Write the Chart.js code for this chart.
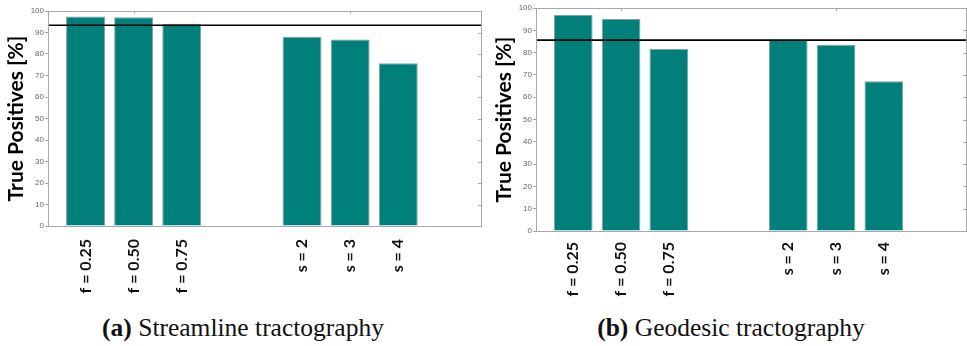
<!DOCTYPE html>
<html>
<head>
<meta charset="utf-8">
<script src="https://cdn.jsdelivr.net/npm/chart.js@4.4.1/dist/chart.umd.min.js"></script>
<style>
  body { margin: 0; background: #fff; width: 967px; height: 346px; position: relative; overflow: hidden; }
  canvas { position: absolute; top: 0; }
  .caption { position: absolute; top: 313px; font-family: "Liberation Serif", serif; font-size: 25.5px; color: #111; white-space: nowrap; transform: translateX(-50%); }
</style>
</head>
<body>
<canvas id="streamline" width="484" height="305" style="left:0"></canvas>
<canvas id="geodesic" width="483" height="305" style="left:484px"></canvas>
<div class="caption" style="left:243px"><b>(a)</b> Streamline tractography</div>
<div class="caption" style="left:731px"><b>(b)</b> Geodesic tractography</div>
<script>
'use strict';

// bar labels and where they sit on the x axis (gap between the two groups)
const groupLabels = ['f = 0.25', 'f = 0.50', 'f = 0.75', 's = 2', 's = 3', 's = 4'];
const barPositions = [1, 2, 3, 5.5, 6.5, 7.5];
const xRange = [0.22, 9.22];
const topTickPositions = [2, 6.5];

// true positives [%]
const streamlineTP = [97.5, 97.1, 94.1, 88.0, 86.8, 75.7];
const streamlineRef = 93.4;
const geodesicTP = [96.9, 95.1, 81.6, 85.8, 83.5, 67.2];
const geodesicRef = 85.6;

const BAR_COLOR = '#007f7b';
const FRAME_COLOR = '#a8a8a8';

// box around the plot plus the little inward ticks MATLAB draws
const framePlugin = {
    id: 'frame',
    afterDatasetsDraw: function (chart) {
        const ctx = chart.ctx;
        const a = chart.chartArea;
        const y = chart.scales.y;
        const x = chart.scales.x;
        ctx.save();
        ctx.strokeStyle = FRAME_COLOR;
        ctx.lineWidth = 1;
        ctx.beginPath();
        y.ticks.forEach(t => {
            const py = Math.round(y.getPixelForValue(t.value)) + 0.5;
            ctx.moveTo(a.right, py);
            ctx.lineTo(a.right - 3, py);
        });
        topTickPositions.forEach(v => {
            const px = Math.round(x.getPixelForValue(v)) + 0.5;
            ctx.moveTo(px, a.top);
            ctx.lineTo(px, a.top + 3);
        });
        ctx.stroke();
        ctx.strokeRect(Math.round(a.left) + 0.5, Math.round(a.top) + 0.5,
            Math.round(a.right - a.left), Math.round(a.bottom - a.top));
        ctx.restore();
    }
};

function makeChart (canvasId, values, refValue, lay) {
    const ctx = document.getElementById(canvasId).getContext('2d');
    return new Chart(ctx, {
        data: {
            datasets: [{
                type: 'line',
                data: [{x: xRange[0], y: refValue}, {x: xRange[1], y: refValue}],
                borderColor: '#000',
                borderWidth: 1.6,
                pointRadius: 0,
                order: 0
            }, {
                type: 'bar',
                data: barPositions.map((p, i) => ({x: p, y: values[i]})),
                backgroundColor: BAR_COLOR,
                borderColor: '#7fa3a1',
                borderWidth: 1,
                barPercentage: 0.81,
                categoryPercentage: 1,
                order: 1
            }]
        },
        options: {
            responsive: false,
            animation: false,
            devicePixelRatio: 1,
            layout: { padding: { left: lay.padLeft, top: lay.top, right: lay.padRight, bottom: 0 } },
            plugins: { legend: { display: false }, tooltip: { enabled: false } },
            scales: {
                x: {
                    type: 'linear',
                    offset: false,
                    min: xRange[0],
                    max: xRange[1],
                    afterBuildTicks: scale => { scale.ticks = barPositions.map(v => ({value: v})); },
                    afterFit: scale => { scale.height = lay.xHeight; },
                    grid: { display: false, drawTicks: false },
                    border: { display: false },
                    ticks: {
                        autoSkip: false,
                        minRotation: 90,
                        maxRotation: 90,
                        padding: lay.labelPad,
                        color: '#111',
                        font: { family: 'Lato', weight: 'bold', size: 16 },
                        callback: v => groupLabels[barPositions.indexOf(v)]
                    }
                },
                y: {
                    min: 0,
                    max: 100,
                    afterFit: scale => { scale.width = lay.yWidth; },
                    grid: { drawOnChartArea: false, tickLength: 3, color: FRAME_COLOR },
                    border: { color: FRAME_COLOR },
                    ticks: {
                        stepSize: 10,
                        padding: 1,
                        color: '#666',
                        font: { family: 'Liberation Sans', size: 8 }
                    },
                    title: {
                        display: true,
                        text: 'True Positives [%]',
                        color: '#000',
                        padding: 0,
                        font: { family: 'Lato', weight: 'bold', size: 21 }
                    }
                }
            }
        },
        plugins: [framePlugin]
    });
}

makeChart('streamline', streamlineTP, streamlineRef,
    { padLeft: 4, padRight: 3, top: 11, yWidth: 44, xHeight: 79, labelPad: 13 });
makeChart('geodesic', geodesicTP, geodesicRef,
    { padLeft: 8, padRight: 1, top: 8, yWidth: 44, xHeight: 74, labelPad: 11 });
</script>
</body>
</html>
